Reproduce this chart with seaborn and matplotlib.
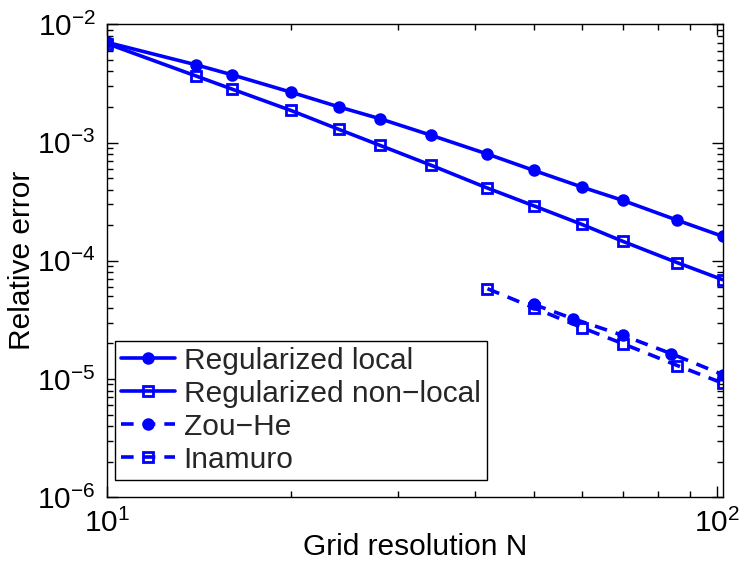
import matplotlib
matplotlib.use("Agg")
import matplotlib.pyplot as plt
import seaborn as sns
import numpy as np
import pandas as pd
from matplotlib.ticker import LogLocator

# ---- data ----
n_reg = [10, 14, 16, 20, 24, 28, 34, 42, 50, 60, 70, 86, 102]
err_reg_local = [7.04e-3, 4.54e-3, 3.75e-3, 2.67e-3, 2.00e-3, 1.59e-3, 1.15e-3,
                 7.99e-4, 5.82e-4, 4.20e-4, 3.24e-4, 2.20e-4, 1.61e-4]
err_reg_nonlocal = [6.87e-3, 3.65e-3, 2.84e-3, 1.87e-3, 1.29e-3, 9.47e-4, 6.41e-4,
                    4.12e-4, 2.92e-4, 2.03e-4, 1.46e-4, 9.63e-5, 6.92e-5]
n_zouhe = [50, 58, 70, 84, 102]
err_zouhe = [4.28e-5, 3.24e-5, 2.34e-5, 1.64e-5, 1.09e-5]
n_inamuro = [42, 50, 60, 70, 86, 102]
err_inamuro = [5.81e-5, 4.01e-5, 2.72e-5, 1.99e-5, 1.30e-5, 9.23e-6]
labels = ["Regularized local", "Regularized non\u2212local", "Zou\u2212He", "Inamuro"]
xlabel = "Grid resolution N"
ylabel = "Relative error"

sns.set_theme(style="ticks")
plt.rcParams["font.family"] = ["Liberation Sans", "DejaVu Sans"]
plt.rcParams["mathtext.fontset"] = "custom"
plt.rcParams["mathtext.rm"] = "Liberation Sans"
plt.rcParams["mathtext.it"] = "Liberation Sans"
plt.rcParams["mathtext.default"] = "regular"

FS = 21.5
blue = (0, 0, 1)

fig = plt.figure(figsize=(7.4, 5.76), dpi=100)
ax = fig.add_axes([107 / 740, 1 - 497.3 / 576, 615.7 / 740, 473 / 576])

series = [
    (n_reg, err_reg_local, labels[0], "o", "-", blue, 7),
    (n_reg, err_reg_nonlocal, labels[1], "s", "-", "none", 7.5),
    (n_zouhe, err_zouhe, labels[2], "o", (0, (3.5, 2.5)), blue, 7),
    (n_inamuro, err_inamuro, labels[3], "s", (0, (3.5, 2.5)), "none", 7.5),
]
for xs, ys, lab, mk, ls, mfc, ms in series:
    df = pd.DataFrame({"N": xs, "err": ys})
    sns.lineplot(data=df, x="N", y="err", ax=ax, estimator=None, sort=False,
                 color=blue, linewidth=2.6, linestyle=ls, marker=mk,
                 markersize=ms, markerfacecolor=mfc, markeredgecolor=blue,
                 markeredgewidth=2.0, label=lab, legend=False)

ax.set_xscale("log")
ax.set_yscale("log")
ax.set_xlim(min(n_reg), max(n_reg))
ax.set_ylim(1e-6, 1e-2)
ax.yaxis.set_major_locator(LogLocator(base=10, numticks=10))
ax.yaxis.set_minor_locator(LogLocator(base=10, subs=np.arange(2, 10), numticks=20))

ax.tick_params(which="both", direction="in", top=True, right=True,
               labelsize=FS, colors="black", width=1.0)
ax.tick_params(which="major", length=8, pad=8)
ax.tick_params(which="minor", length=4.5)
for sp in ax.spines.values():
    sp.set_color("black")
    sp.set_linewidth(1.0)

ax.set_xlabel(xlabel, fontsize=FS, color="black", labelpad=-3)
ax.set_ylabel(ylabel, fontsize=FS, color="black", labelpad=1)

leg = ax.legend(loc="lower left", bbox_to_anchor=(0.013, 0.037), borderaxespad=0,
                fontsize=FS, frameon=True, fancybox=False, edgecolor="black",
                handlelength=1.8, handletextpad=0.3, labelspacing=0.17,
                borderpad=0.2)
leg.get_frame().set_linewidth(1.0)
leg.get_frame().set_alpha(1)

fig.savefig("out.png", dpi=100, facecolor="white")
